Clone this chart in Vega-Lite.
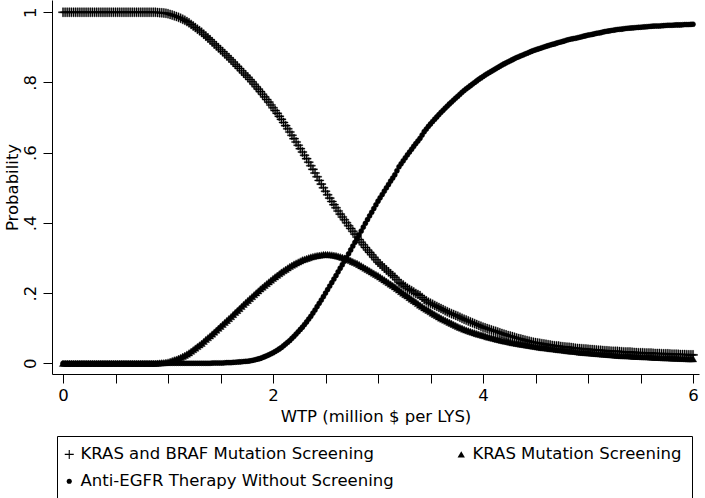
{
"$schema": "https://vega.github.io/schema/vega-lite/v6.json",
"width": 647, "height": 374,
"autosize": {"type": "none"},
"padding": {"left": 52, "top": 0, "right": 6, "bottom": 124},
"background": "white",
"config": {"view": {"stroke": null}, "font": "DejaVu Sans"},
"data": {"values": [
{"x":0,"a":1,"b":0,"c":0},{"x":0.04,"a":1,"b":0,"c":0},{"x":0.08,"a":1,"b":0,"c":0},{"x":0.12,"a":1,"b":0,"c":0},{"x":0.16,"a":1,"b":0,"c":0},{"x":0.2,"a":1,"b":0,"c":0},{"x":0.24,"a":1,"b":0,"c":0},{"x":0.28,"a":1,"b":0,"c":0},{"x":0.32,"a":1,"b":0,"c":0},{"x":0.36,"a":1,"b":0,"c":0},{"x":0.4,"a":1,"b":0,"c":0},{"x":0.44,"a":1,"b":0,"c":0},{"x":0.48,"a":1,"b":0,"c":0},{"x":0.52,"a":1,"b":0,"c":0},{"x":0.56,"a":1,"b":0,"c":0},{"x":0.6,"a":1,"b":0,"c":0},{"x":0.64,"a":1,"b":0,"c":0},{"x":0.68,"a":1,"b":0,"c":0},{"x":0.72,"a":1,"b":0,"c":0},{"x":0.76,"a":1,"b":0,"c":0},{"x":0.8,"a":1,"b":0,"c":0},{"x":0.84,"a":1,"b":0,"c":0},{"x":0.88,"a":1,"b":0,"c":0},
{"x":0.02,"a":1,"b":0,"c":0},{"x":0.06,"a":1,"b":0,"c":0},{"x":0.1,"a":1,"b":0,"c":0},{"x":0.14,"a":1,"b":0,"c":0},{"x":0.18,"a":1,"b":0,"c":0},{"x":0.22,"a":1,"b":0,"c":0},{"x":0.26,"a":1,"b":0,"c":0},{"x":0.3,"a":1,"b":0,"c":0},{"x":0.34,"a":1,"b":0,"c":0},{"x":0.38,"a":1,"b":0,"c":0},{"x":0.42,"a":1,"b":0,"c":0},{"x":0.46,"a":1,"b":0,"c":0},{"x":0.5,"a":1,"b":0,"c":0},{"x":0.54,"a":1,"b":0,"c":0},{"x":0.58,"a":1,"b":0,"c":0},{"x":0.62,"a":1,"b":0,"c":0},{"x":0.66,"a":1,"b":0,"c":0},{"x":0.7,"a":1,"b":0,"c":0},{"x":0.74,"a":1,"b":0,"c":0},{"x":0.78,"a":1,"b":0,"c":0},{"x":0.82,"a":1,"b":0,"c":0},{"x":0.86,"a":1,"b":0,"c":0},
{"x":0.92,"a":0.999,"b":0.001,"c":0},{"x":0.96,"a":0.998,"b":0.002,"c":0},{"x":1,"a":0.996,"b":0.004,"c":0},{"x":1.04,"a":0.992,"b":0.008,"c":0},{"x":1.08,"a":0.988,"b":0.012,"c":0},{"x":1.12,"a":0.983,"b":0.017,"c":0},{"x":1.16,"a":0.977,"b":0.023,"c":0},{"x":1.2,"a":0.970,"b":0.030,"c":0},{"x":1.24,"a":0.961,"b":0.039,"c":0},{"x":1.28,"a":0.952,"b":0.048,"c":0},{"x":1.32,"a":0.943,"b":0.057,"c":0},{"x":1.36,"a":0.932,"b":0.068,"c":0},{"x":1.4,"a":0.922,"b":0.078,"c":0},
{"x":1.44,"a":0.910,"b":0.089,"c":0.001},{"x":1.48,"a":0.899,"b":0.100,"c":0.001},{"x":1.52,"a":0.888,"b":0.111,"c":0.001},{"x":1.56,"a":0.876,"b":0.122,"c":0.002},{"x":1.6,"a":0.865,"b":0.133,"c":0.002},{"x":1.64,"a":0.852,"b":0.145,"c":0.003},{"x":1.68,"a":0.840,"b":0.156,"c":0.004},{"x":1.72,"a":0.827,"b":0.168,"c":0.005},{"x":1.76,"a":0.815,"b":0.179,"c":0.006},{"x":1.8,"a":0.802,"b":0.190,"c":0.008},{"x":1.84,"a":0.788,"b":0.201,"c":0.011},{"x":1.88,"a":0.774,"b":0.212,"c":0.014},{"x":1.92,"a":0.759,"b":0.222,"c":0.019},{"x":1.96,"a":0.744,"b":0.232,"c":0.024},
{"x":2,"a":0.728,"b":0.242,"c":0.030},{"x":2.04,"a":0.712,"b":0.251,"c":0.037},{"x":2.08,"a":0.695,"b":0.260,"c":0.045},{"x":2.12,"a":0.677,"b":0.268,"c":0.055},{"x":2.16,"a":0.659,"b":0.276,"c":0.065},{"x":2.2,"a":0.640,"b":0.283,"c":0.077},{"x":2.24,"a":0.621,"b":0.289,"c":0.090},{"x":2.28,"a":0.602,"b":0.295,"c":0.103},{"x":2.32,"a":0.583,"b":0.299,"c":0.118},{"x":2.36,"a":0.563,"b":0.303,"c":0.134},{"x":2.4,"a":0.542,"b":0.306,"c":0.152},{"x":2.44,"a":0.521,"b":0.308,"c":0.171},{"x":2.48,"a":0.500,"b":0.310,"c":0.190},{"x":2.52,"a":0.480,"b":0.310,"c":0.210},{"x":2.56,"a":0.461,"b":0.309,"c":0.230},{"x":2.6,"a":0.443,"b":0.307,"c":0.250},{"x":2.64,"a":0.425,"b":0.304,"c":0.271},{"x":2.68,"a":0.409,"b":0.300,"c":0.291},{"x":2.72,"a":0.392,"b":0.296,"c":0.312},{"x":2.76,"a":0.376,"b":0.290,"c":0.334},{"x":2.8,"a":0.360,"b":0.285,"c":0.355},{"x":2.84,"a":0.345,"b":0.278,"c":0.377},{"x":2.88,"a":0.330,"b":0.271,"c":0.399},{"x":2.92,"a":0.316,"b":0.264,"c":0.420},{"x":2.96,"a":0.302,"b":0.257,"c":0.441},
{"x":3,"a":0.288,"b":0.250,"c":0.462},{"x":3.04,"a":0.277,"b":0.242,"c":0.481},{"x":3.08,"a":0.266,"b":0.234,"c":0.500},{"x":3.12,"a":0.255,"b":0.226,"c":0.519},{"x":3.16,"a":0.245,"b":0.218,"c":0.537},{"x":3.2,"a":0.231,"b":0.209,"c":0.560},{"x":3.24,"a":0.223,"b":0.200,"c":0.577},{"x":3.28,"a":0.214,"b":0.192,"c":0.594},{"x":3.32,"a":0.207,"b":0.183,"c":0.610},{"x":3.36,"a":0.199,"b":0.175,"c":0.626},{"x":3.4,"a":0.193,"b":0.166,"c":0.641},{"x":3.44,"a":0.182,"b":0.158,"c":0.660},{"x":3.48,"a":0.174,"b":0.151,"c":0.675},{"x":3.52,"a":0.168,"b":0.143,"c":0.689},{"x":3.56,"a":0.162,"b":0.136,"c":0.702},{"x":3.6,"a":0.156,"b":0.129,"c":0.715},{"x":3.64,"a":0.150,"b":0.123,"c":0.727},{"x":3.68,"a":0.144,"b":0.117,"c":0.739},{"x":3.72,"a":0.139,"b":0.111,"c":0.750},{"x":3.76,"a":0.134,"b":0.105,"c":0.761},{"x":3.8,"a":0.128,"b":0.100,"c":0.772},{"x":3.84,"a":0.123,"b":0.095,"c":0.782},{"x":3.88,"a":0.118,"b":0.091,"c":0.791},{"x":3.92,"a":0.113,"b":0.087,"c":0.800},{"x":3.96,"a":0.108,"b":0.083,"c":0.809},
{"x":4,"a":0.103,"b":0.080,"c":0.817},{"x":4.04,"a":0.099,"b":0.076,"c":0.825},{"x":4.08,"a":0.095,"b":0.073,"c":0.832},{"x":4.12,"a":0.091,"b":0.070,"c":0.839},{"x":4.16,"a":0.087,"b":0.067,"c":0.846},{"x":4.2,"a":0.083,"b":0.064,"c":0.853},{"x":4.24,"a":0.079,"b":0.062,"c":0.859},{"x":4.28,"a":0.076,"b":0.059,"c":0.865},{"x":4.32,"a":0.072,"b":0.057,"c":0.871},{"x":4.36,"a":0.069,"b":0.055,"c":0.876},{"x":4.4,"a":0.066,"b":0.053,"c":0.881},{"x":4.44,"a":0.063,"b":0.051,"c":0.886},{"x":4.48,"a":0.060,"b":0.049,"c":0.891},{"x":4.52,"a":0.058,"b":0.047,"c":0.895},{"x":4.56,"a":0.056,"b":0.045,"c":0.899},{"x":4.6,"a":0.054,"b":0.044,"c":0.903},{"x":4.64,"a":0.052,"b":0.042,"c":0.907},{"x":4.68,"a":0.050,"b":0.041,"c":0.910},{"x":4.72,"a":0.049,"b":0.039,"c":0.914},{"x":4.76,"a":0.047,"b":0.038,"c":0.917},{"x":4.8,"a":0.046,"b":0.036,"c":0.921},{"x":4.84,"a":0.045,"b":0.035,"c":0.924},{"x":4.88,"a":0.043,"b":0.034,"c":0.926},{"x":4.92,"a":0.042,"b":0.032,"c":0.929},{"x":4.96,"a":0.041,"b":0.031,"c":0.932},
{"x":5,"a":0.040,"b":0.030,"c":0.935},{"x":5.04,"a":0.039,"b":0.029,"c":0.937},{"x":5.08,"a":0.038,"b":0.028,"c":0.940},{"x":5.12,"a":0.037,"b":0.027,"c":0.942},{"x":5.16,"a":0.036,"b":0.026,"c":0.945},{"x":5.2,"a":0.035,"b":0.025,"c":0.947},{"x":5.24,"a":0.034,"b":0.024,"c":0.949},{"x":5.28,"a":0.034,"b":0.023,"c":0.951},{"x":5.32,"a":0.033,"b":0.022,"c":0.952},{"x":5.36,"a":0.032,"b":0.022,"c":0.954},{"x":5.4,"a":0.032,"b":0.021,"c":0.955},{"x":5.44,"a":0.031,"b":0.020,"c":0.956},{"x":5.48,"a":0.030,"b":0.020,"c":0.957},{"x":5.52,"a":0.030,"b":0.019,"c":0.958},{"x":5.56,"a":0.029,"b":0.019,"c":0.959},{"x":5.6,"a":0.029,"b":0.018,"c":0.960},{"x":5.64,"a":0.028,"b":0.017,"c":0.961},{"x":5.68,"a":0.028,"b":0.017,"c":0.961},{"x":5.72,"a":0.027,"b":0.016,"c":0.962},{"x":5.76,"a":0.027,"b":0.016,"c":0.963},{"x":5.8,"a":0.026,"b":0.015,"c":0.963},{"x":5.84,"a":0.026,"b":0.015,"c":0.964},{"x":5.88,"a":0.025,"b":0.014,"c":0.964},{"x":5.92,"a":0.025,"b":0.014,"c":0.965},{"x":5.96,"a":0.024,"b":0.013,"c":0.965},{"x":6,"a":0.024,"b":0.013,"c":0.966},
{"x":0.9,"a":0.9995,"b":0.0005,"c":0},{"x":0.94,"a":0.9985,"b":0.0015,"c":0},{"x":0.98,"a":0.997,"b":0.003,"c":0},{"x":1.02,"a":0.994,"b":0.006,"c":0},{"x":1.06,"a":0.990,"b":0.010,"c":0},{"x":1.1,"a":0.9855,"b":0.0145,"c":0},{"x":1.14,"a":0.980,"b":0.020,"c":0},{"x":1.18,"a":0.9735,"b":0.0265,"c":0},{"x":1.22,"a":0.9655,"b":0.0345,"c":0},{"x":1.26,"a":0.9565,"b":0.0435,"c":0},{"x":1.3,"a":0.9475,"b":0.0525,"c":0},{"x":1.34,"a":0.9375,"b":0.0625,"c":0},{"x":1.38,"a":0.927,"b":0.073,"c":0},
{"x":1.42,"a":0.916,"b":0.0835,"c":0.0005},{"x":1.46,"a":0.9045,"b":0.0945,"c":0.001},{"x":1.5,"a":0.8935,"b":0.1055,"c":0.001},{"x":1.54,"a":0.882,"b":0.1165,"c":0.0015},{"x":1.58,"a":0.8705,"b":0.1275,"c":0.002},{"x":1.62,"a":0.8585,"b":0.139,"c":0.0025},{"x":1.66,"a":0.846,"b":0.1505,"c":0.0035},{"x":1.7,"a":0.8335,"b":0.162,"c":0.0045},{"x":1.74,"a":0.821,"b":0.1735,"c":0.0055},{"x":1.78,"a":0.8085,"b":0.1845,"c":0.007},{"x":1.82,"a":0.795,"b":0.1955,"c":0.0095},{"x":1.86,"a":0.781,"b":0.2065,"c":0.0125},{"x":1.9,"a":0.7665,"b":0.217,"c":0.0165},{"x":1.94,"a":0.7515,"b":0.227,"c":0.0215},{"x":1.98,"a":0.736,"b":0.237,"c":0.027},
{"x":2.02,"a":0.720,"b":0.2465,"c":0.0335},{"x":2.06,"a":0.7035,"b":0.2555,"c":0.041},{"x":2.1,"a":0.686,"b":0.264,"c":0.050},{"x":2.14,"a":0.668,"b":0.272,"c":0.060},{"x":2.18,"a":0.6495,"b":0.2795,"c":0.071},{"x":2.22,"a":0.6305,"b":0.286,"c":0.0835},{"x":2.26,"a":0.6115,"b":0.292,"c":0.0965},{"x":2.3,"a":0.5925,"b":0.297,"c":0.1105},{"x":2.34,"a":0.573,"b":0.301,"c":0.126},{"x":2.38,"a":0.5525,"b":0.3045,"c":0.143},{"x":2.42,"a":0.5315,"b":0.307,"c":0.1615},{"x":2.46,"a":0.5105,"b":0.309,"c":0.1805},{"x":2.5,"a":0.490,"b":0.310,"c":0.200},{"x":2.54,"a":0.4705,"b":0.3095,"c":0.220},{"x":2.58,"a":0.452,"b":0.308,"c":0.240},{"x":2.62,"a":0.434,"b":0.3055,"c":0.2605},{"x":2.66,"a":0.417,"b":0.302,"c":0.281},{"x":2.7,"a":0.4005,"b":0.298,"c":0.3015},{"x":2.74,"a":0.384,"b":0.293,"c":0.323},{"x":2.78,"a":0.368,"b":0.2875,"c":0.3445},{"x":2.82,"a":0.3525,"b":0.2815,"c":0.366},{"x":2.86,"a":0.3375,"b":0.2745,"c":0.388},{"x":2.9,"a":0.323,"b":0.2675,"c":0.4095},{"x":2.94,"a":0.309,"b":0.2605,"c":0.4305},{"x":2.98,"a":0.295,"b":0.2535,"c":0.4515},
{"x":3.02,"a":0.2825,"b":0.246,"c":0.4715},{"x":3.06,"a":0.2715,"b":0.238,"c":0.4905},{"x":3.1,"a":0.2605,"b":0.230,"c":0.5095},{"x":3.14,"a":0.250,"b":0.222,"c":0.528},{"x":3.18,"a":0.238,"b":0.2135,"c":0.5485},{"x":3.22,"a":0.227,"b":0.2045,"c":0.5685},{"x":3.26,"a":0.2185,"b":0.196,"c":0.5855},{"x":3.3,"a":0.2105,"b":0.1875,"c":0.602},{"x":3.34,"a":0.203,"b":0.179,"c":0.618},{"x":3.38,"a":0.196,"b":0.1705,"c":0.6335},{"x":3.42,"a":0.1875,"b":0.162,"c":0.6505},{"x":3.46,"a":0.178,"b":0.1545,"c":0.6675},{"x":3.5,"a":0.171,"b":0.147,"c":0.682},{"x":3.54,"a":0.165,"b":0.1395,"c":0.6955},{"x":3.58,"a":0.159,"b":0.1325,"c":0.7085},{"x":3.62,"a":0.153,"b":0.126,"c":0.721},{"x":3.66,"a":0.147,"b":0.120,"c":0.733},{"x":3.7,"a":0.1415,"b":0.114,"c":0.7445},{"x":3.74,"a":0.1365,"b":0.108,"c":0.7555},{"x":3.78,"a":0.131,"b":0.1025,"c":0.7665},{"x":3.82,"a":0.1255,"b":0.0975,"c":0.777},{"x":3.86,"a":0.1205,"b":0.093,"c":0.7865},{"x":3.9,"a":0.1155,"b":0.089,"c":0.7955},{"x":3.94,"a":0.1105,"b":0.085,"c":0.8045},{"x":3.98,"a":0.1055,"b":0.0815,"c":0.813},
{"x":4.02,"a":0.101,"b":0.078,"c":0.821},{"x":4.06,"a":0.097,"b":0.0745,"c":0.8285},{"x":4.1,"a":0.093,"b":0.0715,"c":0.8355},{"x":4.14,"a":0.089,"b":0.0685,"c":0.8425},{"x":4.18,"a":0.085,"b":0.0655,"c":0.8495},{"x":4.22,"a":0.081,"b":0.063,"c":0.856},{"x":4.26,"a":0.0775,"b":0.0605,"c":0.862},{"x":4.3,"a":0.074,"b":0.058,"c":0.868},{"x":4.34,"a":0.0705,"b":0.056,"c":0.8735},{"x":4.38,"a":0.0675,"b":0.054,"c":0.8785},{"x":4.42,"a":0.0645,"b":0.052,"c":0.8835},{"x":4.46,"a":0.0615,"b":0.050,"c":0.8885},{"x":4.5,"a":0.059,"b":0.048,"c":0.893},{"x":4.54,"a":0.057,"b":0.046,"c":0.897},{"x":4.58,"a":0.055,"b":0.0445,"c":0.901},{"x":4.62,"a":0.053,"b":0.043,"c":0.905},{"x":4.66,"a":0.051,"b":0.0415,"c":0.9085},{"x":4.7,"a":0.0495,"b":0.040,"c":0.912},{"x":4.74,"a":0.048,"b":0.0385,"c":0.9155},{"x":4.78,"a":0.0465,"b":0.037,"c":0.919},{"x":4.82,"a":0.0455,"b":0.0355,"c":0.9225},{"x":4.86,"a":0.044,"b":0.0345,"c":0.925},{"x":4.9,"a":0.0425,"b":0.033,"c":0.9275},{"x":4.94,"a":0.0415,"b":0.0315,"c":0.9305},{"x":4.98,"a":0.0405,"b":0.0305,"c":0.9335},
{"x":5.02,"a":0.0395,"b":0.0295,"c":0.936},{"x":5.06,"a":0.0385,"b":0.0285,"c":0.9385},{"x":5.1,"a":0.0375,"b":0.0275,"c":0.941},{"x":5.14,"a":0.0365,"b":0.0265,"c":0.9435},{"x":5.18,"a":0.0355,"b":0.0255,"c":0.946},{"x":5.22,"a":0.0345,"b":0.0245,"c":0.948},{"x":5.26,"a":0.034,"b":0.0235,"c":0.950},{"x":5.3,"a":0.0335,"b":0.0225,"c":0.9515},{"x":5.34,"a":0.0325,"b":0.022,"c":0.953},{"x":5.38,"a":0.032,"b":0.0215,"c":0.9545},{"x":5.42,"a":0.0315,"b":0.0205,"c":0.9555},{"x":5.46,"a":0.0305,"b":0.020,"c":0.9565},{"x":5.5,"a":0.030,"b":0.0195,"c":0.9575},{"x":5.54,"a":0.0295,"b":0.019,"c":0.9585},{"x":5.58,"a":0.029,"b":0.0185,"c":0.9595},{"x":5.62,"a":0.0285,"b":0.0175,"c":0.9605},{"x":5.66,"a":0.028,"b":0.017,"c":0.961},{"x":5.7,"a":0.0275,"b":0.0165,"c":0.9615},{"x":5.74,"a":0.027,"b":0.016,"c":0.9625},{"x":5.78,"a":0.0265,"b":0.0155,"c":0.963},{"x":5.82,"a":0.026,"b":0.015,"c":0.9635},{"x":5.86,"a":0.0255,"b":0.0145,"c":0.964},{"x":5.9,"a":0.025,"b":0.014,"c":0.9645},{"x":5.94,"a":0.0245,"b":0.0135,"c":0.965},{"x":5.98,"a":0.024,"b":0.013,"c":0.9655}
]},
"transform": [{"fold": ["a", "b", "c"], "as": ["s", "p"]}],
"mark": {"type": "point", "filled": true, "color": "black", "stroke": "black", "strokeWidth": 0.4, "opacity": 1},
"encoding": {
  "x": {"field": "x", "type": "quantitative",
    "scale": {"domain": [-0.105, 6.057], "nice": false, "zero": false},
    "axis": {"title": "WTP (million $ per LYS)", "values": [0,0.5,1,1.5,2,2.5,3,3.5,4,4.5,5,5.5,6],
      "labelExpr": "datum.value % 2 == 0 ? format(datum.value, 'd') : ''",
      "grid": false, "domainColor": "black", "domainWidth": 1, "tickColor": "black", "tickWidth": 1, "tickSize": 9,
      "labelFontSize": 16.5, "labelColor": "black", "labelPadding": 4, "labelFlush": false, "labelOverlap": false,
      "titleFontSize": 16.5, "titleFontWeight": "normal", "titleColor": "black", "titlePadding": 5}},
  "y": {"field": "p", "type": "quantitative",
    "scale": {"domain": [-0.0305, 1.035], "nice": false, "zero": false},
    "axis": {"title": "Probability", "values": [0,0.2,0.4,0.6,0.8,1],
      "labelExpr": "datum.value == 0 ? '0' : datum.value == 1 ? '1' : '.' + round(datum.value * 10)",
      "labelAngle": -90, "labelAlign": "center", "labelBaseline": "alphabetic",
      "grid": false, "domainColor": "black", "domainWidth": 1, "tickColor": "black", "tickWidth": 1, "tickSize": 9,
      "labelFontSize": 16.5, "labelColor": "black", "labelPadding": 8, "labelOverlap": false,
      "titleFontSize": 16.5, "titleFontWeight": "normal", "titleColor": "black", "titlePadding": 2}},
  "shape": {"field": "s", "type": "ordinal",
    "scale": {"domain": ["a", "b", "c"], "range": ["M-1,-0.12H1V0.12H-1Z M-0.12,-1H0.12V1H-0.12Z", "triangle-up", "circle"]},
    "legend": {"title": null, "orient": "none", "legendX": 5, "legendY": 436, "direction": "horizontal", "columns": 2,
      "strokeColor": "black", "padding": 10, "rowPadding": 10, "columnPadding": 62,
      "labelFontSize": 16.5, "labelColor": "black", "labelLimit": 0, "labelOffset": 3, "symbolOffset": -6,
      "symbolFillColor": "black", "symbolStrokeColor": "black", "symbolStrokeWidth": 0.5, "symbolOpacity": 1,
      "labelExpr": "datum.value == 'a' ? 'KRAS and BRAF Mutation Screening' : datum.value == 'b' ? 'KRAS Mutation Screening' : 'Anti-EGFR Therapy Without Screening'"}},
  "size": {"field": "s", "type": "ordinal",
    "scale": {"domain": ["a", "b", "c"], "range": [81, 26, 56]},
    "legend": {"title": null, "orient": "none", "legendX": 5, "legendY": 436, "direction": "horizontal", "columns": 2,
      "strokeColor": "black", "padding": 10, "rowPadding": 10, "columnPadding": 62,
      "labelFontSize": 16.5, "labelColor": "black", "labelLimit": 0, "labelOffset": 3, "symbolOffset": -6,
      "symbolFillColor": "black", "symbolStrokeColor": "black", "symbolStrokeWidth": 0.5, "symbolOpacity": 1,
      "labelExpr": "datum.value == 'a' ? 'KRAS and BRAF Mutation Screening' : datum.value == 'b' ? 'KRAS Mutation Screening' : 'Anti-EGFR Therapy Without Screening'"}}
}
}
